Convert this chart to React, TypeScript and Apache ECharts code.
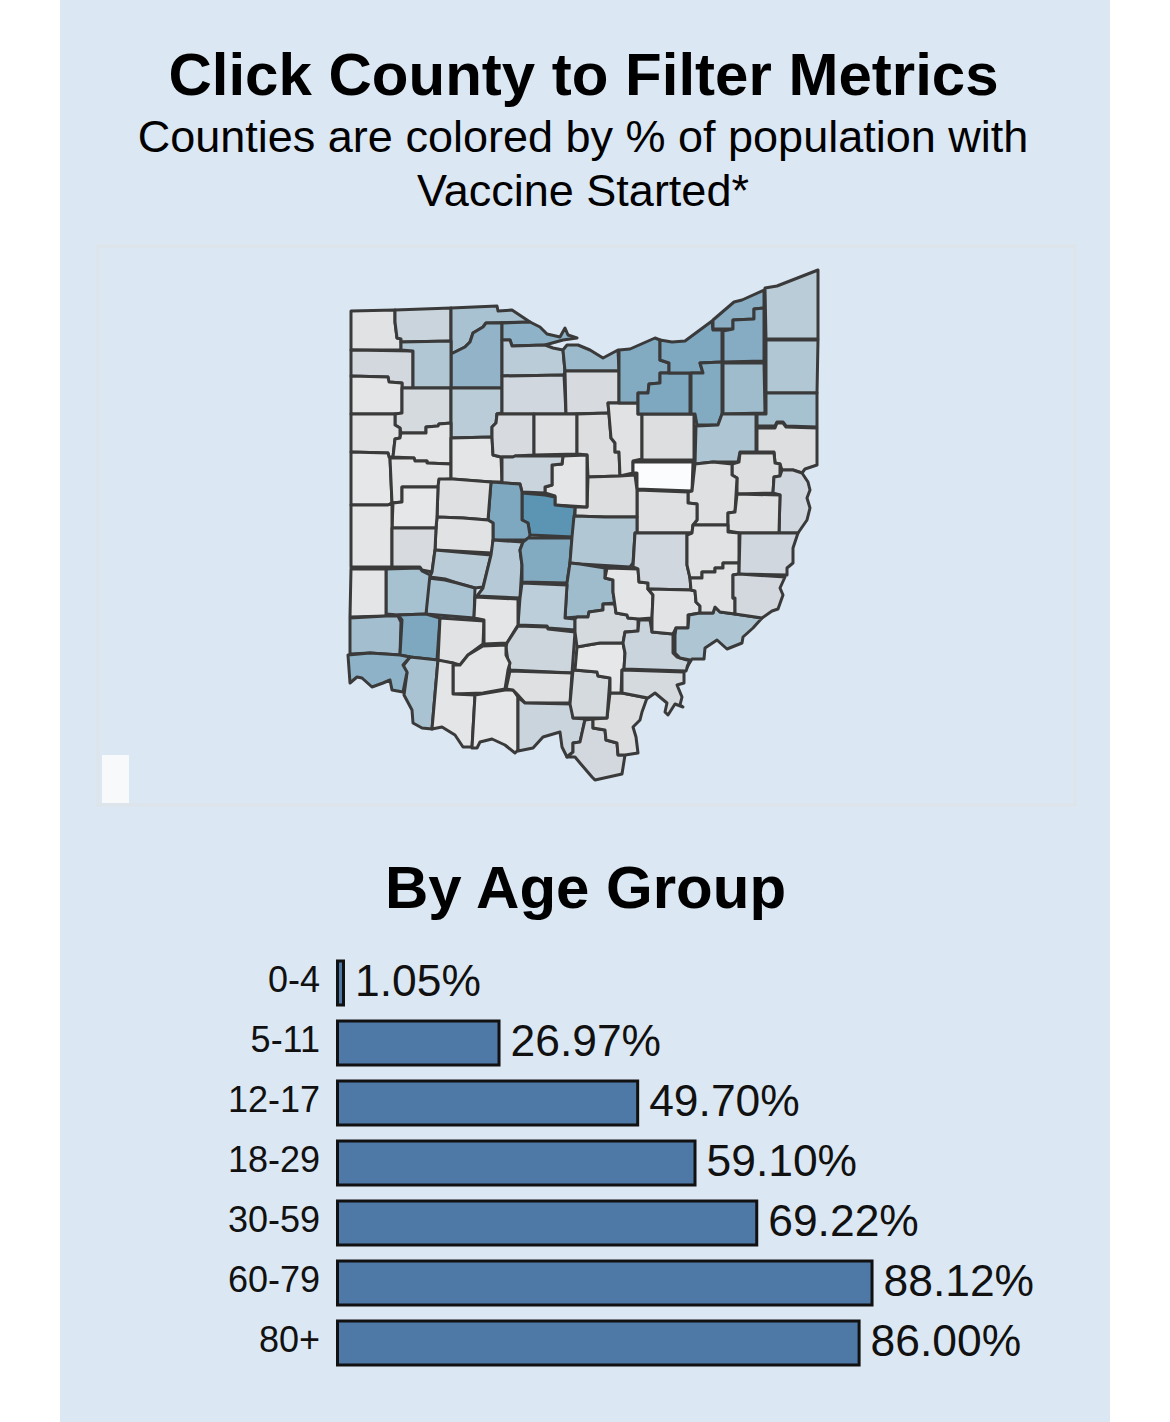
import React, { useEffect, useRef } from "react";
import * as echarts from "echarts";

const titleText = "Click County to Filter Metrics";
const subtitleText = "Counties are colored by % of population with\nVaccine Started*";
const ageTitleText = "By Age Group";

const ageGroups = ["0-4", "5-11", "12-17", "18-29", "30-59", "60-79", "80+"];
const ageValues = [1.05, 26.97, 49.7, 59.1, 69.22, 88.12, 86.0];

const countyNames = [
  "Williams","Fulton","Lucas","Wood","Ottawa","Sandusky","Erie","Defiance","Henry","Paulding","Putnam",
  "Hancock","Seneca","Huron","Van Wert","Allen","Mercer","Auglaize","Hardin","Wyandot","Crawford","Richland",
  "Ashland","Wayne","Holmes","Lorain","Medina","Cuyahoga","Summit","Lake","Geauga","Portage","Ashtabula",
  "Trumbull","Mahoning","Stark","Columbiana","Carroll","Jefferson","Tuscarawas","Harrison","Coshocton","Knox",
  "Morrow","Marion","Delaware","Union","Logan","Champaign","Shelby","Darke","Miami","Clark","Madison",
  "Franklin","Licking","Fairfield","Pickaway","Greene","Montgomery","Preble","Butler","Warren","Clinton",
  "Fayette","Ross","Highland","Clermont","Hamilton","Brown","Adams","Pike","Scioto","Lawrence","Gallia",
  "Jackson","Vinton","Hocking","Athens","Meigs","Perry","Muskingum","Morgan","Washington","Guernsey","Noble",
  "Belmont","Monroe",
];

const countyValues = [
  38,47,56.5,62,63,52,60,44,54,36,43,
  52,45,42,38,36,35,36,36,42,39,40,
  38,40,30,66,67,67,66,64,65,59,52,
  54,57,55,40,40,45,39,39,39,40,
  36,47,75,67,39,38,35,36,42,52,53,
  66,54,59,51,56,57,36,58,67,38,
  36,46,36,56,63,36,35,39,47,44,40,
  43,35,43,47,43,36,45,37,55,38,38,
  45,44,
];

const colorStops = ["#fbfcfe","#e6e7e9","#dcdee0","#d0d7de","#c0d0da","#aec5d3","#9bbacc","#86acc3","#72a0bb","#5c94b3"];

// County outlines (base-map geometry for registerMap).
const countyShapes: Record<string, string> = {
  Williams: "351,311 395,310 395,322 397,338 401,339 401,350 351,350",
  Fulton: "395,310 451,308 451,341 401,342 401,339 397,338 395,322",
  Lucas: "451,308 497,306 498,311 512,310 530,322 486,323 483,327 473,333 470,342 465,347 453,353 451,353",
  Wood: "451,353 453,353 465,347 470,342 473,333 483,327 486,323 502,323 502,388 451,388",
  Ottawa: "502,323 530,322 540,327 547,334 560,337 565,328 568,335 577,338 563,340 545,345 512,346 510,340 502,340",
  Sandusky: "502,340 510,340 512,346 545,345 553,348 563,350 565,371 564,375 502,376",
  Erie: "563,350 567,345 578,345 590,350 603,358 618,350 619,371 565,371",
  Defiance: "351,350 413,351 413,388 402,388 402,383 389,382 388,377 351,376",
  Henry: "401,342 451,341 451,388 413,388 413,351 401,350",
  Paulding: "351,376 388,377 389,382 402,383 402,413 395,414 351,414",
  Putnam: "402,388 451,388 451,423 439,424 438,426 426,427 426,433 403,433 401,433 400,428 395,425 395,414 402,413",
  Hancock: "451,388 502,388 502,413 497,414 496,423 492,427 492,437 451,438",
  Seneca: "502,376 564,375 566,414 534,414 497,414 502,413",
  Huron: "565,371 619,371 619,403 608,403 609,413 566,414",
  "Van Wert": "351,414 395,414 395,425 400,428 400,438 395,439 393,457 389,457 388,453 351,452",
  Allen: "401,433 403,433 426,433 426,427 438,426 439,424 451,423 451,464 427,463 427,461 415,461 414,458 393,457 395,439 400,438",
  Mercer: "351,452 388,453 389,457 390,458 392,503 388,505 351,505",
  Auglaize: "390,458 414,458 415,461 427,461 427,463 451,464 451,479 439,480 438,487 402,487 402,502 392,503",
  Hardin: "451,438 492,437 493,455 501,457 502,482 491,482 451,479 451,464",
  Wyandot: "492,427 496,423 497,414 534,414 534,455 515,456 513,457 501,457 493,455 492,437",
  Crawford: "534,414 577,414 577,453 578,454 534,455",
  Richland: "577,414 609,413 611,438 615,443 615,452 619,452 620,476 588,477 587,455 578,454 577,453",
  Ashland: "608,403 638,403 638,414 642,414 642,459 633,461 633,473 620,476 619,452 615,452 615,443 611,438",
  Wayne: "642,414 694,414 694,460 642,460",
  Holmes: "633,462 693,462 692,491 637,489 637,473 633,473",
  Lorain: "619,350 630,349 655,338 660,340 660,360 669,363 669,373 660,373 660,383 649,384 648,393 638,393 638,403 619,403",
  Medina: "638,393 648,393 649,384 660,383 660,373 690,373 690,414 638,414",
  Cuyahoga: "660,340 672,342 685,341 712,321 713,330 722,330 722,362 700,363 703,373 669,373 669,363 660,360",
  Summit: "700,363 722,362 722,414 718,425 697,425 695,414 691,414 691,373 703,373",
  Lake: "713,320 734,302 742,300 764,290 764,308 754,309 754,319 733,320 733,329 713,329",
  Geauga: "723,331 733,329 733,320 754,319 754,309 764,308 764,361 723,362",
  Portage: "723,363 764,363 765,413 723,414",
  Ashtabula: "765,288 777,286 818,270 818,339 766,339",
  Trumbull: "766,340 818,340 817,393 766,393",
  Mahoning: "766,393 817,393 817,427 786,426 783,422 777,422 775,426 757,426 757,414 766,414",
  Stark: "696,426 718,425 722,414 756,414 756,452 740,452 738,462 713,462 695,464",
  Columbiana: "757,428 775,428 777,423 783,423 786,427 817,428 817,465 805,469 802,473 793,470 782,470 780,464 775,463 774,452 757,452",
  Carroll: "740,453 774,453 775,463 780,464 780,476 774,477 773,493 737,494 737,478 732,475 732,464 739,462",
  Jefferson: "782,470 793,470 802,473 808,482 810,490 807,498 810,508 807,520 798,533 779,533 780,495 773,493 774,477 780,476",
  Tuscarawas: "695,464 713,462 732,464 732,475 737,478 735,512 728,513 728,525 693,525 697,520 697,504 688,503 688,492 692,491",
  Harrison: "737,494 780,495 779,533 740,533 728,531 728,513 735,512",
  Coshocton: "637,490 688,492 688,503 697,504 697,520 693,525 692,533 637,533",
  Knox: "588,477 620,476 635,475 637,490 637,517 605,517 575,516 575,507 587,507",
  Morrow: "563,456 587,455 587,507 555,505 555,496 545,493 545,487 552,485 552,465 562,464",
  Marion: "502,457 513,457 515,456 563,456 562,464 552,465 552,485 545,487 545,493 522,492 520,484 502,483",
  Delaware: "522,493 545,495 555,497 555,505 575,507 573,537 530,535 528,523 522,520",
  Union: "491,482 520,484 522,492 522,520 528,523 530,535 528,540 493,540 493,523 488,520",
  Logan: "439,479 453,479 491,482 488,520 463,518 437,517 438,487",
  Champaign: "437,517 463,518 488,520 493,523 493,540 492,553 435,550 436,528",
  Shelby: "393,503 402,502 402,487 438,487 437,517 436,528 392,528",
  Darke: "351,505 388,505 392,503 392,567 351,567",
  Miami: "392,528 436,528 435,550 432,572 422,570 420,567 392,567",
  Clark: "435,550 491,555 483,587 475,588 457,583 445,579 430,577 432,572",
  Madison: "493,540 523,542 520,550 522,565 520,598 477,596 483,588 491,555",
  Franklin: "528,538 572,538 570,563 567,583 522,582 522,565 520,550 523,542",
  Licking: "574,516 605,517 637,517 637,533 635,533 633,563 630,567 580,564 570,563 572,537",
  Fairfield: "570,563 580,564 605,568 605,578 613,580 613,592 615,603 603,604 603,610 589,612 588,617 577,617 565,618 567,583",
  Pickaway: "522,583 567,585 565,618 575,619 575,630 548,628 547,626 518,625 520,598",
  Greene: "428,578 445,580 457,583 475,588 474,618 426,614",
  Montgomery: "386,569 420,568 422,571 430,575 426,614 398,615 386,614",
  Preble: "351,569 386,569 386,616 350,617",
  Butler: "350,618 386,616 398,616 401,622 400,655 370,653 350,654",
  Warren: "398,615 426,614 440,618 437,660 410,657 400,655 402,620",
  Clinton: "440,618 484,621 483,644 468,655 460,665 453,663 438,661",
  Fayette: "475,597 518,599 518,625 507,643 484,644 484,620 474,618",
  Ross: "518,626 547,627 548,629 575,632 572,673 510,670 508,662 506,647 507,643",
  Highland: "483,646 506,645 506,655 510,663 508,670 505,689 483,693 453,694 453,665 460,665 468,655",
  Clermont: "410,657 438,660 432,729 422,728 413,723 412,710 404,695 407,673 403,666",
  Hamilton: "348,655 370,653 400,655 410,657 403,665 407,672 403,692 392,690 390,680 383,683 372,687 362,678 357,677 350,683",
  Brown: "438,660 453,663 453,694 475,695 472,747 463,747 455,735 442,727 432,729",
  Adams: "475,695 505,690 513,690 518,697 518,750 515,753 505,745 492,739 480,742 477,748 472,748",
  Pike: "510,671 572,673 570,703 525,703 517,694 513,690 506,689",
  Scioto: "518,697 525,703 573,704 573,718 585,719 582,733 580,742 573,743 573,752 567,757 562,747 560,732 543,737 533,748 518,751",
  Lawrence: "585,720 593,719 593,728 605,730 606,740 617,743 618,755 625,755 622,774 595,780 592,777 580,763 575,757 567,757 573,752 573,743 580,742 582,733",
  Gallia: "593,719 607,718 610,693 622,693 647,698 642,712 640,720 633,727 636,737 638,753 625,755 618,755 617,743 606,740 605,730 593,728",
  Jackson: "573,670 597,672 598,676 610,678 607,718 573,718 570,704",
  Vinton: "577,647 588,645 600,643 623,643 625,653 624,669 622,670 621,693 610,693 610,678 598,676 597,672 575,670",
  Hocking: "577,617 588,617 589,612 603,610 603,604 615,604 616,613 627,615 628,618 638,619 638,631 625,632 623,643 600,643 588,645 577,647 575,632 575,619",
  Athens: "627,632 638,631 639,620 650,620 652,632 673,634 673,653 677,657 687,660 690,660 686,671 624,669 625,653 623,643 625,632",
  Meigs: "622,670 684,672 684,683 677,685 682,697 680,705 683,707 675,704 668,715 665,712 667,703 655,693 648,698 622,693",
  Perry: "607,568 638,569 639,582 648,583 648,589 653,595 652,618 639,619 628,618 627,615 616,613 613,592 613,580 605,578",
  Muskingum: "637,533 692,533 687,535 687,565 690,578 691,590 648,589 648,583 639,582 638,569 633,567 635,533",
  Morgan: "648,589 691,590 695,591 696,602 700,606 700,613 688,615 688,628 676,628 673,634 652,632 652,618 653,595",
  Washington: "675,635 676,628 688,628 689,615 700,613 713,613 715,607 720,612 735,614 762,618 753,628 743,637 742,643 727,649 717,640 705,648 704,659 692,659 687,667 690,660 680,658 675,653",
  Guernsey: "693,525 728,525 728,532 739,533 739,563 723,563 723,568 715,568 715,572 702,572 702,578 690,578 687,565 687,535 692,533",
  Noble: "690,578 702,578 702,572 715,572 715,568 723,568 723,563 739,563 739,574 733,575 733,598 735,598 735,614 720,612 715,607 713,613 700,613 700,606 696,602 695,591 691,590",
  Belmont: "740,533 798,533 793,548 793,563 787,568 787,575 739,574",
  Monroe: "733,575 739,574 785,577 780,588 783,595 778,609 772,611 762,618 735,614 735,598 733,598",
};

function parseRing(s: string): number[][] {
  const ring = s.split(" ").map((p) => p.split(",").map(Number));
  ring.push(ring[0].slice());
  return ring;
}

const rings = countyNames.map((n) => parseRing(countyShapes[n]));
const allPts = rings.flat();
const mapX0 = Math.min(...allPts.map((p) => p[0]));
const mapX1 = Math.max(...allPts.map((p) => p[0]));
const mapY0 = Math.min(...allPts.map((p) => p[1]));
const mapY1 = Math.max(...allPts.map((p) => p[1]));

const ohioGeo = {
  type: "FeatureCollection",
  features: countyNames.map((name, i) => ({
    type: "Feature",
    properties: { name },
    geometry: { type: "Polygon", coordinates: [rings[i]] },
  })),
};

const FONT = '"Liberation Sans", Arial, sans-serif';

export default function App() {
  const ref = useRef<HTMLDivElement>(null);
  useEffect(() => {
    document.body.style.margin = "0";
    document.body.style.background = "#ffffff";
    echarts.registerMap("ohio", ohioGeo as any);
    const chart = echarts.init(ref.current!, undefined, { renderer: "svg" });
    chart.setOption({
      animation: false,
      backgroundColor: "#ffffff",
      title: [
        { text: titleText, left: 578.5, top: 39, textAlign: "center",
          textStyle: { fontFamily: FONT, fontSize: 60, fontWeight: "bold", color: "#000" } },
        { text: subtitleText, left: 578, top: 104, textAlign: "center",
          textStyle: { fontFamily: FONT, fontSize: 45, fontWeight: "normal", color: "#000", lineHeight: 54 } },
        { text: ageTitleText, left: 580.5, top: 852, textAlign: "center",
          textStyle: { fontFamily: FONT, fontSize: 60, fontWeight: "bold", color: "#000" } },
      ],
      graphic: [
        { type: "rect", z: -10, silent: true, shape: { x: 60, y: 0, width: 1050, height: 1422 }, style: { fill: "#dbe7f2" } },
        { type: "rect", z: -9, silent: true, shape: { x: 98, y: 246, width: 977, height: 559 }, style: { fill: "none", stroke: "#dde4ea", lineWidth: 3 } },
        { type: "rect", z: -8, silent: true, shape: { x: 102, y: 755, width: 27, height: 48 }, style: { fill: "#f8f9fa" } },
      ],
      visualMap: {
        show: false,
        seriesIndex: 0,
        min: 30,
        max: 75,
        inRange: { color: colorStops },
      },
      grid: { left: 336, top: 953, width: 610, height: 420, containLabel: false },
      xAxis: { type: "value", min: 0, max: 100, show: false },
      yAxis: {
        type: "category",
        inverse: true,
        data: ageGroups,
        axisLine: { show: false },
        axisTick: { show: false },
        splitLine: { show: false },
        axisLabel: {
          margin: 16,
          formatter: "{a|{value}}",
          rich: {
            a: { fontFamily: FONT, fontSize: 36, color: "#111", padding: [0, 0, 8, 0] },
          },
        },
      },
      series: [
        {
          type: "map",
          map: "ohio",
          projection: { project: (p: number[]) => p, unproject: (p: number[]) => p },
          left: mapX0,
          top: mapY0,
          width: mapX1 - mapX0,
          height: mapY1 - mapY0,
          silent: true,
          selectedMode: false,
          label: { show: false },
          itemStyle: { borderColor: "#3a3a3a", borderWidth: 3, borderJoin: "round" },
          emphasis: { disabled: true },
          data: countyNames.map((name, i) => ({ name, value: countyValues[i] })),
        },
        {
          type: "bar",
          data: ageValues,
          barWidth: 47,
          barMinHeight: 9,
          silent: true,
          itemStyle: { color: "#4e79a7", borderColor: "#111111", borderWidth: 3 },
          label: {
            show: true,
            position: "right",
            distance: 10,
            offset: [0, -3],
            fontFamily: FONT,
            fontSize: 44.4,
            color: "#111",
            formatter: (p: any) => p.value.toFixed(2) + "%",
          },
        },
      ],
    });
    return () => chart.dispose();
  }, []);
  return <div ref={ref} style={{ width: 1170, height: 1422 }} />;
}
